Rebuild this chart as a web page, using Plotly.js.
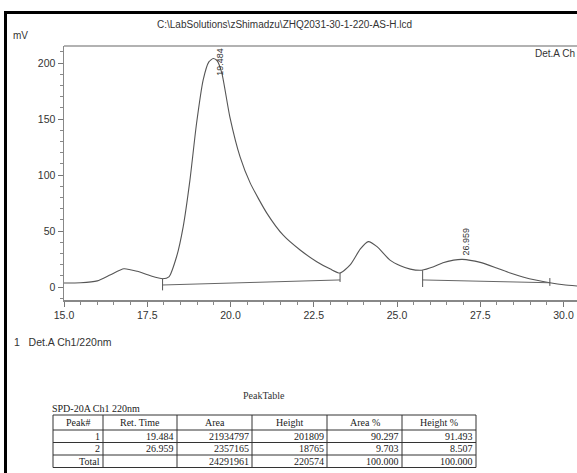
<!DOCTYPE html>
<html>
<head>
<meta charset="utf-8">
<script src="https://cdn.plot.ly/plotly-3.0.1.min.js"></script>
<style>html,body{margin:0;padding:0;background:#fff;}#chart{width:577px;height:473px;}</style>
</head>
<body>
<div id="chart"></div>
<script>
// ---- chromatogram data (time in min, signal in mV) ----
var retTime = [15.0, 15.5, 16.0, 16.4, 16.8, 17.2, 17.6, 17.96, 18.15, 18.38, 18.58, 18.78, 18.98, 19.18, 19.35, 19.48, 19.6, 19.74, 19.98, 20.29, 20.59, 21.09, 21.59, 22.09, 22.59, 23.0, 23.29, 23.6, 23.9, 24.14, 24.4, 24.79, 25.1, 25.4, 25.74, 26.1, 26.38, 26.7, 26.96, 27.5, 27.99, 28.4, 28.78, 29.2, 29.59, 30.0, 30.6];
var signal  = [3.6, 3.8, 5.5, 11, 16.3, 14, 10, 7.4, 9, 27, 54, 95, 146, 185, 201, 204, 202, 191, 152, 116, 93, 66, 46, 33, 22.6, 16, 12.5, 20, 34, 40.5, 36, 24, 19, 16, 15, 18, 21.7, 24, 24.7, 22, 17, 12.5, 9, 6, 3.8, 2, 0.5];

// integration baselines (start/end time and level)
var base1X = [17.96, 23.29], base1Y = [1.8, 6.3];
var base2X = [25.77, 29.59], base2Y = [6.3, 3.8];
// peak start/end markers (vertical ticks)
var markX  = [17.96, 17.96, null, 23.29, 23.29, null, 25.77, 25.77, null, 29.59, 29.59];
var markY  = [7.4, -3, null, 12.5, 4.5, null, 15, 0, null, 8, 1];

// peak labels
var peakTimes = [19.484, 26.959];
var peakTops  = [204, 24.7];
var peakText  = ["19.484", "26.959"];

// peak table
var tblHeader = ["Peak#", "Ret. Time", "Area", "Height", "Area %", "Height %"];
var colPeak   = ["1", "2", "Total"];
var colRT     = ["19.484", "26.959", ""];
var colArea   = ["21934797", "2357165", "24291961"];
var colHeight = ["201809", "18765", "220574"];
var colAreaP  = ["90.297", "9.703", "100.000"];
var colHeightP= ["91.493", "8.507", "100.000"];

var xTicks = [15.0, 17.5, 20.0, 22.5, 25.0, 27.5, 30.0];
var yTicks = [0, 50, 100, 150, 200];

var W = 577, H = 473;
function px(x){ return x / W; }
function py(y){ return 1 - y / H; }

var sans = "Liberation Sans, Arial, sans-serif";
var serif = "Liberation Serif, Times New Roman, serif";
var grey = "#555";

var traces = [
  {x: retTime, y: signal, type: "scatter", mode: "lines",
   line: {color: grey, width: 1.1, shape: "spline", smoothing: 0.6}, hoverinfo: "skip"},
  {x: base1X, y: base1Y, type: "scatter", mode: "lines", line: {color: "#666", width: 1}, hoverinfo: "skip"},
  {x: base2X, y: base2Y, type: "scatter", mode: "lines", line: {color: "#666", width: 1}, hoverinfo: "skip"},
  {x: markX, y: markY, type: "scatter", mode: "lines", line: {color: "#555", width: 1}, hoverinfo: "skip"}
];

var annotations = [
  {text: "C:\\LabSolutions\\zShimadzu\\ZHQ2031-30-1-220-AS-H.lcd", xref: "paper", yref: "paper",
   x: px(284), y: py(24), xanchor: "center", yanchor: "middle", showarrow: false,
   font: {family: sans, size: 10, color: "#333"}},
  {text: "mV", xref: "paper", yref: "paper", x: px(11), y: py(36), xanchor: "left", yanchor: "middle",
   showarrow: false, font: {family: sans, size: 10, color: "#333"}},
  {text: "Det.A Ch", xref: "paper", yref: "paper", x: px(533), y: py(53), xanchor: "left", yanchor: "middle",
   showarrow: false, font: {family: sans, size: 10, color: "#333"}},
  {text: "1   Det.A Ch1/220nm", xref: "paper", yref: "paper", x: px(12), y: py(342), xanchor: "left", yanchor: "middle",
   showarrow: false, font: {family: sans, size: 10.5, color: "#333"}},
  {text: "PeakTable", xref: "paper", yref: "paper", x: px(264), y: py(395), xanchor: "center", yanchor: "middle",
   showarrow: false, font: {family: serif, size: 10, color: "#333"}},
  {text: "SPD-20A Ch1 220nm", xref: "paper", yref: "paper", x: px(50), y: py(408), xanchor: "left", yanchor: "middle",
   showarrow: false, font: {family: serif, size: 10, color: "#222"}}
];
for (var i = 0; i < peakTimes.length; i++) {
  annotations.push({text: peakText[i], x: peakTimes[i], y: peakTops[i], xref: "x", yref: "y",
    textangle: -90, showarrow: false, xanchor: "center", yanchor: "bottom",
    xshift: i === 0 ? 6 : 4, yshift: i === 0 ? -19 : 2,
    font: {family: sans, size: 9, color: "#333"}});
}

var shapes = [
  {type: "line", xref: "paper", yref: "paper", x0: 64 / W, x1: 1, y0: py(46), y1: py(46),
   line: {color: "#999", width: 1.5}},
  {type: "line", xref: "paper", yref: "paper", x0: px(5.5), x1: px(5.5), y0: py(12), y1: 0,
   line: {color: "#000", width: 3}},
  {type: "line", xref: "paper", yref: "paper", x0: px(4), x1: 1, y0: py(12.5), y1: py(12.5),
   line: {color: "#000", width: 3}}
];

// ---- peak table built from the arrays ----
var tblCols = [colPeak, colRT, colArea, colHeight, colAreaP, colHeightP];
var colEdges = [53, 103, 177, 252, 327, 402, 476];
var rowEdges = [415, 430, 442.5, 455, 467.5];
rowEdges.forEach(function(yy){
  shapes.push({type: "line", xref: "paper", yref: "paper", x0: px(colEdges[0]), x1: px(colEdges[colEdges.length-1]),
    y0: py(yy), y1: py(yy), line: {color: "#333", width: 1}});
});
colEdges.forEach(function(xx){
  shapes.push({type: "line", xref: "paper", yref: "paper", x0: px(xx), x1: px(xx),
    y0: py(rowEdges[0]), y1: py(rowEdges[rowEdges.length-1]), line: {color: "#333", width: 1}});
});
var tfont = {family: serif, size: 10, color: "#222"};
for (var c = 0; c < tblHeader.length; c++) {
  annotations.push({text: tblHeader[c], xref: "paper", yref: "paper",
    x: px((colEdges[c] + colEdges[c+1]) / 2), y: py((rowEdges[0] + rowEdges[1]) / 2),
    xanchor: "center", yanchor: "middle", showarrow: false, font: tfont});
  for (var r = 0; r < tblCols[c].length; r++) {
    if (!tblCols[c][r]) continue;
    annotations.push({text: tblCols[c][r], xref: "paper", yref: "paper",
      x: px(colEdges[c+1] - 1), y: py((rowEdges[r+1] + rowEdges[r+2]) / 2),
      xanchor: "right", yanchor: "middle", showarrow: false, font: tfont});
  }
}

var layout = {
  width: W, height: H,
  margin: {l: 0, r: 0, t: 0, b: 0},
  paper_bgcolor: "#fff", plot_bgcolor: "#fff",
  showlegend: false,
  xaxis: {domain: [64 / W, 1], range: [15, 15 + 513 / 33.3], tickvals: xTicks, tickformat: ".1f",
          ticks: "outside", ticklen: 5, tickcolor: "#777", tickwidth: 1,
          minor: {dtick: 0.5, tick0: 15, ticks: "outside", ticklen: 3, tickcolor: "#888"},
          showline: true, linecolor: "#888", linewidth: 1.5, showgrid: false, zeroline: false,
          tickfont: {family: sans, size: 10.5, color: "#333"}},
  yaxis: {domain: [py(300), py(46)], range: [-11.6, 215.2], tickvals: yTicks,
          ticks: "outside", ticklen: 5, tickcolor: "#777", tickwidth: 1,
          minor: {dtick: 10, tick0: 0, ticks: "outside", ticklen: 3, tickcolor: "#888"},
          showline: true, linecolor: "#888", linewidth: 1.5, showgrid: false, zeroline: false,
          tickfont: {family: sans, size: 10.5, color: "#333"}},
  shapes: shapes,
  annotations: annotations
};

Plotly.newPlot("chart", traces, layout, {displayModeBar: false, staticPlot: true});
</script>
</body>
</html>
